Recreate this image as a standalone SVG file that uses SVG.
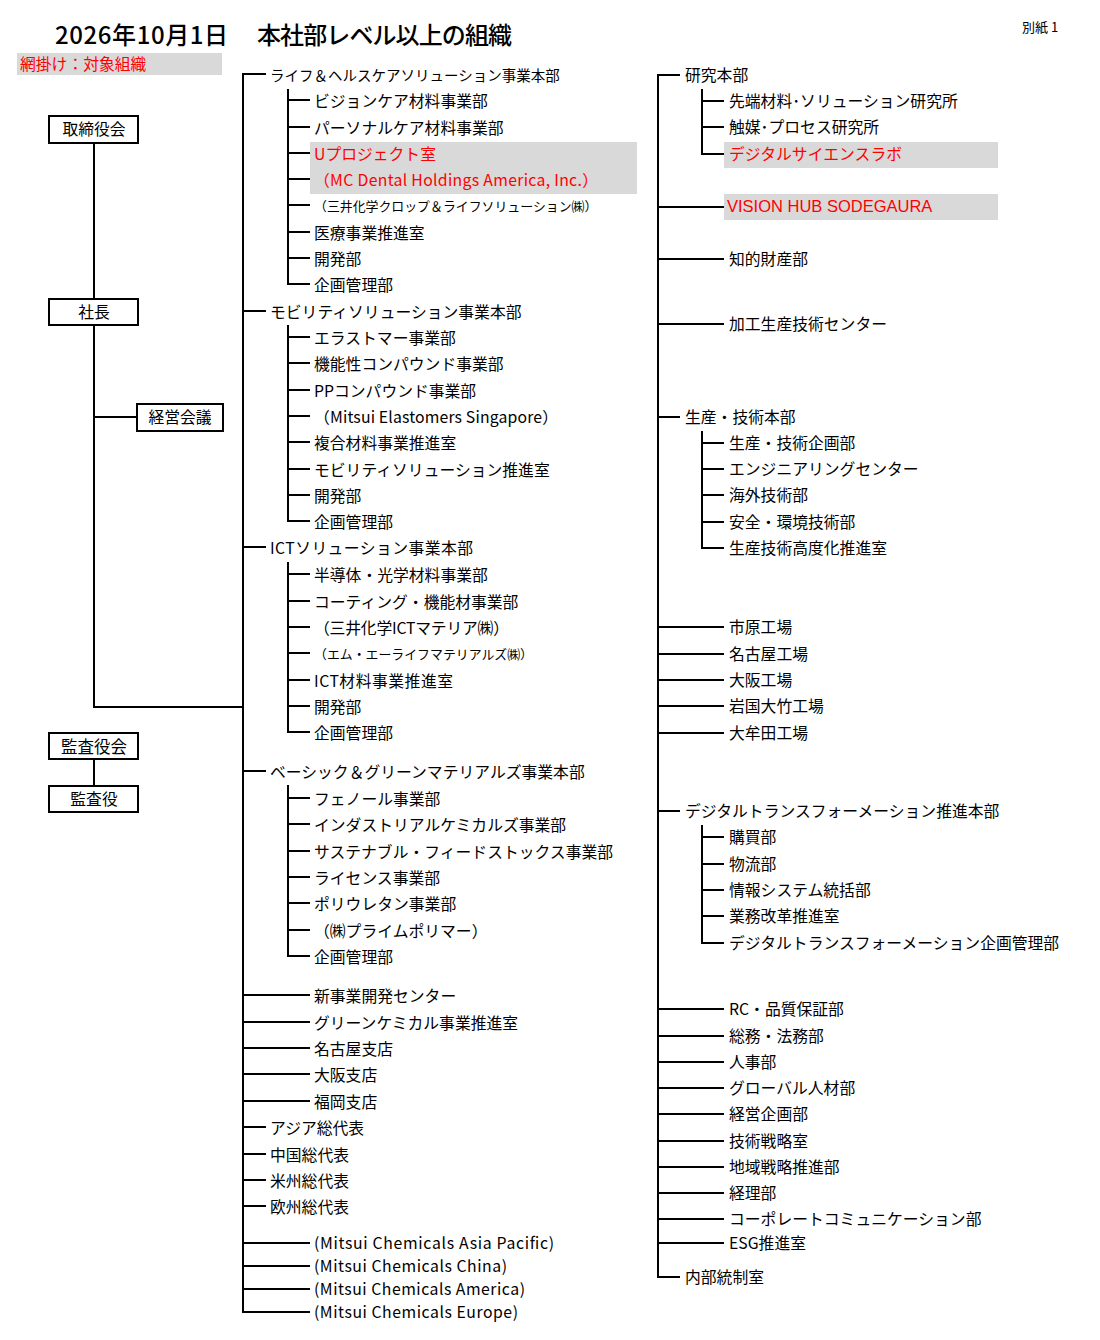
<svg xmlns="http://www.w3.org/2000/svg" width="1100" height="1340" viewBox="0 0 1100 1340">
<style>
text{font-family:"Noto Sans CJK JP","Noto Sans",sans-serif;fill:#000;dominant-baseline:central;font-size:15.8px}
.sm{font-size:12.9px}
.red{fill:#ff0000}
.lat{font-family:"Liberation Sans","Noto Sans CJK JP",sans-serif;font-size:16.5px}
.hl{fill:#d9d9d9}
.box{fill:#fff;stroke:#000;stroke-width:2}
.ctr{text-anchor:middle}
#connectors path{fill:none;stroke:#000;stroke-width:2}
</style>
<rect width="1100" height="1340" fill="#fff"/>
<g id="header">
<text y="33" style="font-size:24px;font-weight:500"><tspan x="55" textLength="173" lengthAdjust="spacing">2026年10月1日</tspan>　<tspan x="257" textLength="255" lengthAdjust="spacing">本社部レベル以上の組織</tspan></text>
<text x="1022" y="26" style="font-size:13px">別紙 1</text>
<rect class="hl" x="17" y="53" width="205" height="22"/>
<text class="red" x="20" y="63">網掛け：対象組織</text>
</g>
<g id="connectors">
<path d="M94,143V299M94,325V707H243M94,417H137M94,759V786"/>
<path d="M266,74H243V1312H310"/>
<path d="M243,311H266M243,547H266M243,771H266M243,1127H266M243,1154H266M243,1180H266M243,1206H266"/>
<path d="M243,995H310M243,1022H310M243,1048H310M243,1074H310M243,1101H310M243,1243H310M243,1266H310M243,1289H310"/>
<path d="M288,89V284H310M288,100H310M288,127H310M288,153H310M288,179H310M288,205H310M288,232H310M288,258H310"/>
<path d="M288,325V521H310M288,337H310M288,363H310M288,390H310M288,416H310M288,442H310M288,469H310M288,495H310"/>
<path d="M288,562V732H310M288,574H310M288,601H310M288,627H310M288,653H310M288,680H310M288,706H310"/>
<path d="M288,785V956H310M288,798H310M288,824H310M288,851H310M288,877H310M288,903H310M288,930H310"/>
<path d="M680,75H658V1277H680M658,417H680M658,811H680"/>
<path d="M658,207H724M658,259H724M658,324H724M658,627H724M658,654H724M658,680H724M658,706H724M658,733H724M658,1009H724M658,1036H724M658,1062H724M658,1088H724M658,1114H724M658,1141H724M658,1167H724M658,1193H724M658,1219H724M658,1243H724"/>
<path d="M702,89V154H724M702,101H724M702,127H724"/>
<path d="M702,431V548H724M702,443H724M702,469H724M702,495H724M702,522H724"/>
<path d="M702,825V943H724M702,837H724M702,864H724M702,890H724M702,916H724"/>
</g>
<g id="board"><rect class="box" x="49" y="116" width="89" height="27"/><text class="ctr" x="94" y="128.5">取締役会</text></g>
<g id="president"><rect class="box" x="49" y="299" width="89" height="26"/><text class="ctr" x="94" y="311.5">社長</text></g>
<g id="mgmt-meeting"><rect class="box" x="137" y="404" width="86" height="27"/><text class="ctr" x="180" y="416.5">経営会議</text></g>
<g id="audit-board"><rect class="box" x="49" y="733" width="89" height="26"/><text class="ctr" x="94" y="745.5" style="font-size:16.5px">監査役会</text></g>
<g id="auditor"><rect class="box" x="49" y="786" width="89" height="26"/><text class="ctr" x="94" y="798.5">監査役</text></g>

<g id="life-health">
<text x="270" y="74" style="font-size:14.5px">ライフ＆ヘルスケアソリューション事業本部</text>
<text x="314" y="100">ビジョンケア材料事業部</text>
<text x="314" y="127">パーソナルケア材料事業部</text>
<rect class="hl" x="310" y="142" width="327" height="52"/>
<text class="red" x="314" y="153">Uプロジェクト室</text>
<text class="red" x="314" y="179" textLength="284" lengthAdjust="spacing">（MC Dental Holdings America, Inc.）</text>
<text class="sm" x="314" y="205">（三井化学クロップ＆ライフソリューション㈱）</text>
<text x="314" y="232">医療事業推進室</text>
<text x="314" y="258">開発部</text>
<text x="314" y="284">企画管理部</text>
</g>
<g id="mobility">
<text x="270" y="311">モビリティソリューション事業本部</text>
<text x="314" y="337">エラストマー事業部</text>
<text x="314" y="363">機能性コンパウンド事業部</text>
<text x="314" y="390">PPコンパウンド事業部</text>
<text x="314" y="416" textLength="244" lengthAdjust="spacing">（Mitsui Elastomers Singapore）</text>
<text x="314" y="442">複合材料事業推進室</text>
<text x="314" y="469">モビリティソリューション推進室</text>
<text x="314" y="495">開発部</text>
<text x="314" y="521">企画管理部</text>
</g>
<g id="ict">
<text x="270" y="547" textLength="203" lengthAdjust="spacing">ICTソリューション事業本部</text>
<text x="314" y="574">半導体・光学材料事業部</text>
<text x="314" y="601">コーティング・機能材事業部</text>
<text x="314" y="627" textLength="195" lengthAdjust="spacing">（三井化学ICTマテリア㈱）</text>
<text class="sm" x="314" y="653">（エム・エーライフマテリアルズ㈱）</text>
<text x="314" y="680" textLength="139" lengthAdjust="spacing">ICT材料事業推進室</text>
<text x="314" y="706">開発部</text>
<text x="314" y="732">企画管理部</text>
</g>
<g id="basic-green">
<text x="270" y="771">ベーシック＆グリーンマテリアルズ事業本部</text>
<text x="314" y="798">フェノール事業部</text>
<text x="314" y="824">インダストリアルケミカルズ事業部</text>
<text x="314" y="851">サステナブル・フィードストックス事業部</text>
<text x="314" y="877">ライセンス事業部</text>
<text x="314" y="903">ポリウレタン事業部</text>
<text x="314" y="930">（㈱プライムポリマー）</text>
<text x="314" y="956">企画管理部</text>
</g>
<g id="left-others">
<text x="314" y="995">新事業開発センター</text>
<text x="314" y="1022">グリーンケミカル事業推進室</text>
<text x="314" y="1048">名古屋支店</text>
<text x="314" y="1074">大阪支店</text>
<text x="314" y="1101">福岡支店</text>
<text x="270" y="1127">アジア総代表</text>
<text x="270" y="1154">中国総代表</text>
<text x="270" y="1180">米州総代表</text>
<text x="270" y="1206">欧州総代表</text>
<text x="314" y="1242" textLength="240" lengthAdjust="spacing">(Mitsui Chemicals Asia Pacific)</text>
<text x="314" y="1265" textLength="193" lengthAdjust="spacing">(Mitsui Chemicals China)</text>
<text x="314" y="1288" textLength="211" lengthAdjust="spacing">(Mitsui Chemicals America)</text>
<text x="314" y="1311" textLength="204" lengthAdjust="spacing">(Mitsui Chemicals Europe)</text>
</g>
<g id="research">
<text x="685" y="74.5">研究本部</text>
<text x="729" y="100.5">先端材料･ソリューション研究所</text>
<text x="729" y="126.5">触媒･プロセス研究所</text>
<rect class="hl" x="724" y="142" width="274" height="26"/>
<text class="red" x="729" y="153.5">デジタルサイエンスラボ</text>
</g>
<g id="vision-hub">
<rect class="hl" x="724" y="194" width="274" height="26"/>
<text class="red lat" x="727" y="206">VISION HUB SODEGAURA</text>
</g>
<g id="ip"><text x="729" y="258">知的財産部</text></g>
<g id="processing"><text x="729" y="323.5">加工生産技術センター</text></g>
<g id="production">
<text x="685" y="416">生産・技術本部</text>
<text x="729" y="442">生産・技術企画部</text>
<text x="729" y="468">エンジニアリングセンター</text>
<text x="729" y="494.5">海外技術部</text>
<text x="729" y="521">安全・環境技術部</text>
<text x="729" y="547">生産技術高度化推進室</text>
</g>
<g id="works">
<text x="729" y="626">市原工場</text>
<text x="729" y="653">名古屋工場</text>
<text x="729" y="679">大阪工場</text>
<text x="729" y="705">岩国大竹工場</text>
<text x="729" y="732">大牟田工場</text>
</g>
<g id="dx">
<text x="685" y="810">デジタルトランスフォーメーション推進本部</text>
<text x="729" y="836.5">購買部</text>
<text x="729" y="863">物流部</text>
<text x="729" y="889">情報システム統括部</text>
<text x="729" y="915.5">業務改革推進室</text>
<text x="729" y="942">デジタルトランスフォーメーション企画管理部</text>
</g>
<g id="corporate">
<text x="729" y="1008">RC・品質保証部</text>
<text x="729" y="1035">総務・法務部</text>
<text x="729" y="1061">人事部</text>
<text x="729" y="1087">グローバル人材部</text>
<text x="729" y="1113">経営企画部</text>
<text x="729" y="1140">技術戦略室</text>
<text x="729" y="1166">地域戦略推進部</text>
<text x="729" y="1192">経理部</text>
<text x="729" y="1218">コーポレートコミュニケーション部</text>
<text x="729" y="1242">ESG推進室</text>
<text x="685" y="1276">内部統制室</text>
</g>
</svg>
